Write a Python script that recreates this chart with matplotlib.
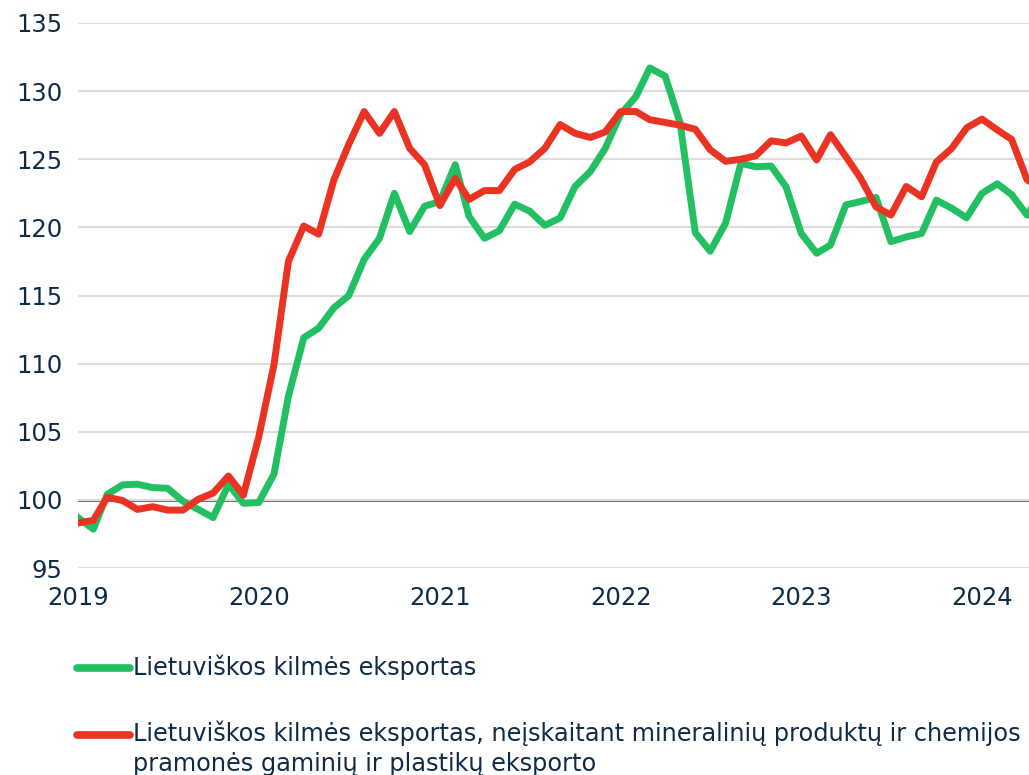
import pandas as pd
import matplotlib
matplotlib.use("Agg")
import matplotlib.pyplot as plt
import matplotlib.dates as mdates
from matplotlib.lines import Line2D

# Mėnesiniai indeksai (2019-01 = pradžia)
months = pd.date_range("2019-01-01", periods=65, freq="MS")

green_vals = [
    98.7, 97.85, 100.4, 101.1, 101.15, 100.9, 100.85, 99.9, 99.3, 98.7, 101.15, 99.75,
    99.8, 101.9, 107.6, 111.9, 112.6, 114.1, 115.0, 117.65, 119.2, 122.5, 119.7, 121.55,
    121.9, 124.6, 120.8, 119.2, 119.75, 121.7, 121.2, 120.15, 120.7, 123.0, 124.1, 125.8,
    128.3, 129.6, 131.7, 131.1, 127.7, 119.6, 118.25, 120.3, 124.7, 124.45, 124.5, 123.0,
    119.55, 118.1, 118.7, 121.65, 121.9, 122.2, 118.95, 119.3, 119.55, 122.0, 121.4, 120.7,
    122.5, 123.2, 122.4, 120.9, 122.6,
]

red_vals = [
    98.3, 98.5, 100.2, 99.95, 99.3, 99.5, 99.25, 99.25, 100.05, 100.5, 101.75, 100.35,
    104.6, 109.95, 117.5, 120.1, 119.5, 123.5, 126.1, 128.5, 126.9, 128.5, 125.8, 124.6,
    121.6, 123.6, 122.05, 122.7, 122.7, 124.25, 124.8, 125.8, 127.55, 126.9, 126.6, 127.0,
    128.5, 128.5, 127.9, 127.7, 127.5, 127.2, 125.7, 124.85, 125.0, 125.25, 126.35, 126.2,
    126.7, 124.95, 126.8, 125.2, 123.6, 121.5, 120.9, 123.0, 122.25, 124.8, 125.8, 127.3,
    127.95, 127.15, 126.45, 123.5, 122.8,
]

labels = [
    "Lietuviškos kilmės eksportas",
    "Lietuviškos kilmės eksportas, neįskaitant mineralinių produktų ir chemijos\npramonės gaminių ir plastikų eksporto",
]
year_ticks = pd.date_range("2019-01-01", "2024-01-01", freq="YS")
y_ticks = list(range(95, 136, 5))

GREEN = "#22c063"
RED = "#ea3323"
TXT = "#0d2b47"

plt.rcParams["font.family"] = ["DejaVu Sans"]

W, H = 1029, 775
fig = plt.figure(figsize=(W / 100, H / 100), dpi=100)
ax = fig.add_axes([78 / W, 1 - 568 / H, 1 - 78 / W, (568 - 23) / H])

ax.plot(months, green_vals, color=GREEN, lw=5, solid_joinstyle="round", zorder=3)
ax.plot(months, red_vals, color=RED, lw=5, solid_joinstyle="round", zorder=4)

ax.set_ylim(95, 135)
ax.set_yticks(y_ticks)
ax.set_xlim(pd.Timestamp("2019-01-01"), pd.Timestamp("2024-04-05"))
ax.set_xticks(year_ticks)
ax.xaxis.set_major_formatter(mdates.DateFormatter("%Y"))

ax.grid(axis="y", color="#dcdcdc", lw=1.5, zorder=0)
ax.axhline(100, color="#6e6e6e", lw=2.2, zorder=1)
for s in ax.spines.values():
    s.set_visible(False)
ax.tick_params(axis="both", length=0, labelsize=17.5, colors=TXT)
ax.tick_params(axis="y", pad=11)
ax.tick_params(axis="x", pad=13)

# Legenda po grafiku
for y_px, col, lab in [(668, GREEN, labels[0]), (735, RED, labels[1])]:
    yf = 1 - y_px / H
    fig.add_artist(Line2D([77 / W, 130 / W], [yf, yf], transform=fig.transFigure,
                          color=col, lw=5.5, solid_capstyle="round"))
    fig.text(133 / W, yf + 14 / H, lab, fontsize=17.3, color=TXT, va="top",
             ha="left", linespacing=1.3)

fig.savefig("out.png", dpi=100)
